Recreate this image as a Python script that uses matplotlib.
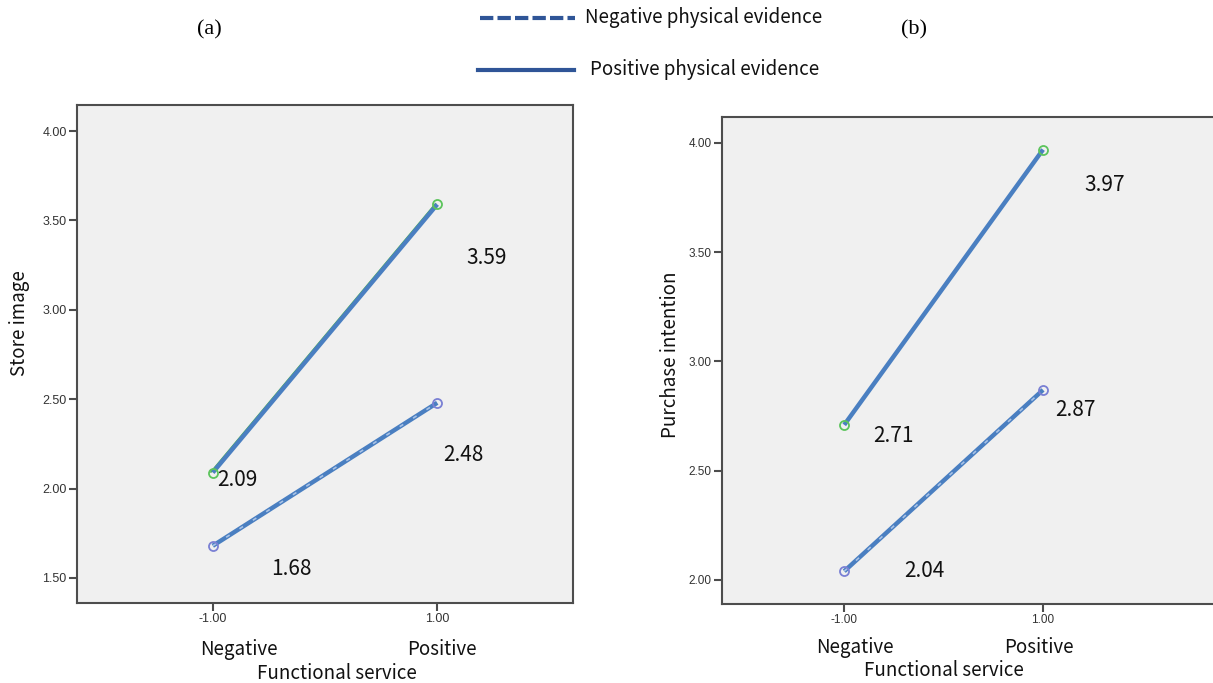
import matplotlib
matplotlib.use("Agg")
import matplotlib.pyplot as plt
from matplotlib.lines import Line2D
from matplotlib.transforms import offset_copy

plt.rcParams['font.family'] = ['Noto Sans CJK KR', 'DejaVu Sans']

# ---- data ----
x_levels = [-1.0, 1.0]
x_ticklabels = ["-1.00", "1.00"]
category_labels = ["Negative", "Positive"]

store_pos = [2.09, 3.59]   # positive physical evidence
store_neg = [1.68, 2.48]   # negative physical evidence
purch_pos = [2.71, 3.97]
purch_neg = [2.04, 2.87]

store_yticks = [1.50, 2.00, 2.50, 3.00, 3.50, 4.00]
purch_yticks = [2.00, 2.50, 3.00, 3.50, 4.00]

# value label positions (data coords)
store_lbl_xy = {"2.09": (-0.78, 2.05), "3.59": (1.44, 3.29),
                "2.48": (1.23, 2.19), "1.68": (-0.30, 1.55)}
purch_lbl_xy = {"3.97": (1.62, 3.81), "2.71": (-0.51, 2.66),
                "2.87": (1.33, 2.78), "2.04": (-0.19, 2.04)}

W, H = 1213, 683
fig = plt.figure(figsize=(W / 100, H / 100), dpi=100)

LINE = '#4a7fc1'
LINE_LIGHT = '#a8c2e6'
GREEN = '#5cc45c'
MBLUE = '#7a80d4'
SPINE = '#4d4d4d'
BG = '#f0f0f0'


def px_axes(l, t, r, b):
    return [l / W, 1 - b / H, (r - l) / W, (b - t) / H]


def draw_panel(ax, pos, neg, yticks, xlim, ylim, labels_xy, tick_fs,
               cat_xy, fs_xy, green_offset):
    ax.set_facecolor(BG)
    ax.set_xlim(*xlim)
    ax.set_ylim(*ylim)
    for s in ax.spines.values():
        s.set_color(SPINE)
        s.set_linewidth(1.5)
    # negative physical evidence (dashed look)
    ax.plot(x_levels, neg, color=LINE, lw=3.2, solid_capstyle='butt', zorder=3)
    ax.plot(x_levels, neg, color=LINE_LIGHT, lw=1.2, dashes=(2.5, 7), zorder=4)
    # positive physical evidence
    if green_offset:
        tr = offset_copy(ax.transData, fig=fig, x=-1.3, y=0.4, units='points')
        ax.plot(x_levels, pos, color='#4fb34f', lw=1.2, transform=tr, zorder=2)
    ax.plot(x_levels, pos, color=LINE, lw=3.2, solid_capstyle='butt', zorder=3)
    ax.plot(x_levels, pos, ls='none', marker='o', ms=6.5, mfc='none',
            mec=GREEN, mew=1.3, zorder=5)
    ax.plot(x_levels, neg, ls='none', marker='o', ms=6.5, mfc='none',
            mec=MBLUE, mew=1.3, zorder=5)
    for txt, (x, y) in labels_xy.items():
        ax.text(x, y, txt, fontsize=15, ha='center', va='center', color='#111111')
    ax.set_xticks(x_levels)
    ax.set_xticklabels(x_ticklabels)
    ax.set_yticks(yticks)
    ax.set_yticklabels([f"{v:.2f}" for v in yticks])
    ax.tick_params(axis='both', direction='out', length=5.5, width=1.5,
                   color=SPINE, labelsize=tick_fs, labelcolor='#333333', pad=2)
    for lab in ax.get_xticklabels() + ax.get_yticklabels():
        lab.set_family(['Liberation Sans', 'DejaVu Sans'])
    xt = ax.get_xaxis_transform()
    for (cx, cy), txt in zip(cat_xy, category_labels):
        ax.text(cx, cy, txt, transform=xt, fontsize=13.5, ha='center',
                va='center', color='#111111', clip_on=False)
    ax.text(fs_xy[0], fs_xy[1], "Functional service", transform=xt,
            fontsize=13.5, ha='center', va='center', color='#111111', clip_on=False)


# ---- panel (a) ----
axA = fig.add_axes(px_axes(77, 105, 573, 603))
draw_panel(axA, store_pos, store_neg, store_yticks, (-2.21, 2.21), (1.36, 4.146),
           store_lbl_xy, 9, [(-0.77, -0.094), (1.04, -0.094)], (0.11, -0.141), True)
fig.text(20 / W, 1 - 323 / H, "Store image", rotation=90, fontsize=13.5,
         ha='center', va='center', color='#111111')

# ---- panel (b) ----
axB = fig.add_axes(px_axes(722, 117, 1213, 604))
draw_panel(axB, purch_pos, purch_neg, purch_yticks, (-2.23, 2.71), (1.89, 4.119),
           purch_lbl_xy, 8.5, [(-0.89, -0.090), (0.96, -0.090)], (0.005, -0.137), False)
axB.spines['right'].set_visible(False)
fig.text(671 / W, 1 - 355 / H, "Purchase intention", rotation=90, fontsize=13.5,
         ha='center', va='center', color='#111111')

# ---- panel titles ----
fig.text(209 / W, 1 - 30 / H, "(a)", fontsize=16, ha='center', va='center',
         family=['Liberation Serif', 'DejaVu Serif'])
fig.text(914 / W, 1 - 30 / H, "(b)", fontsize=16, ha='center', va='center',
         family=['Liberation Serif', 'DejaVu Serif'])

# ---- legend ----
LEG = '#2f5597'
fig.add_artist(Line2D([480 / W, 575 / W], [1 - 18 / H, 1 - 18 / H], color=LEG,
                      lw=3, dashes=(3.2, 1.0), transform=fig.transFigure))
fig.text(585 / W, 1 - 18 / H, "Negative physical evidence", fontsize=13.5,
         ha='left', va='center', color='#111111')
fig.add_artist(Line2D([478 / W, 574 / W], [1 - 70 / H, 1 - 70 / H], color=LEG,
                      lw=3, transform=fig.transFigure))
fig.text(590 / W, 1 - 70 / H, "Positive physical evidence", fontsize=13.5,
         ha='left', va='center', color='#111111')

fig.savefig("out.png", dpi=100, facecolor='white')
